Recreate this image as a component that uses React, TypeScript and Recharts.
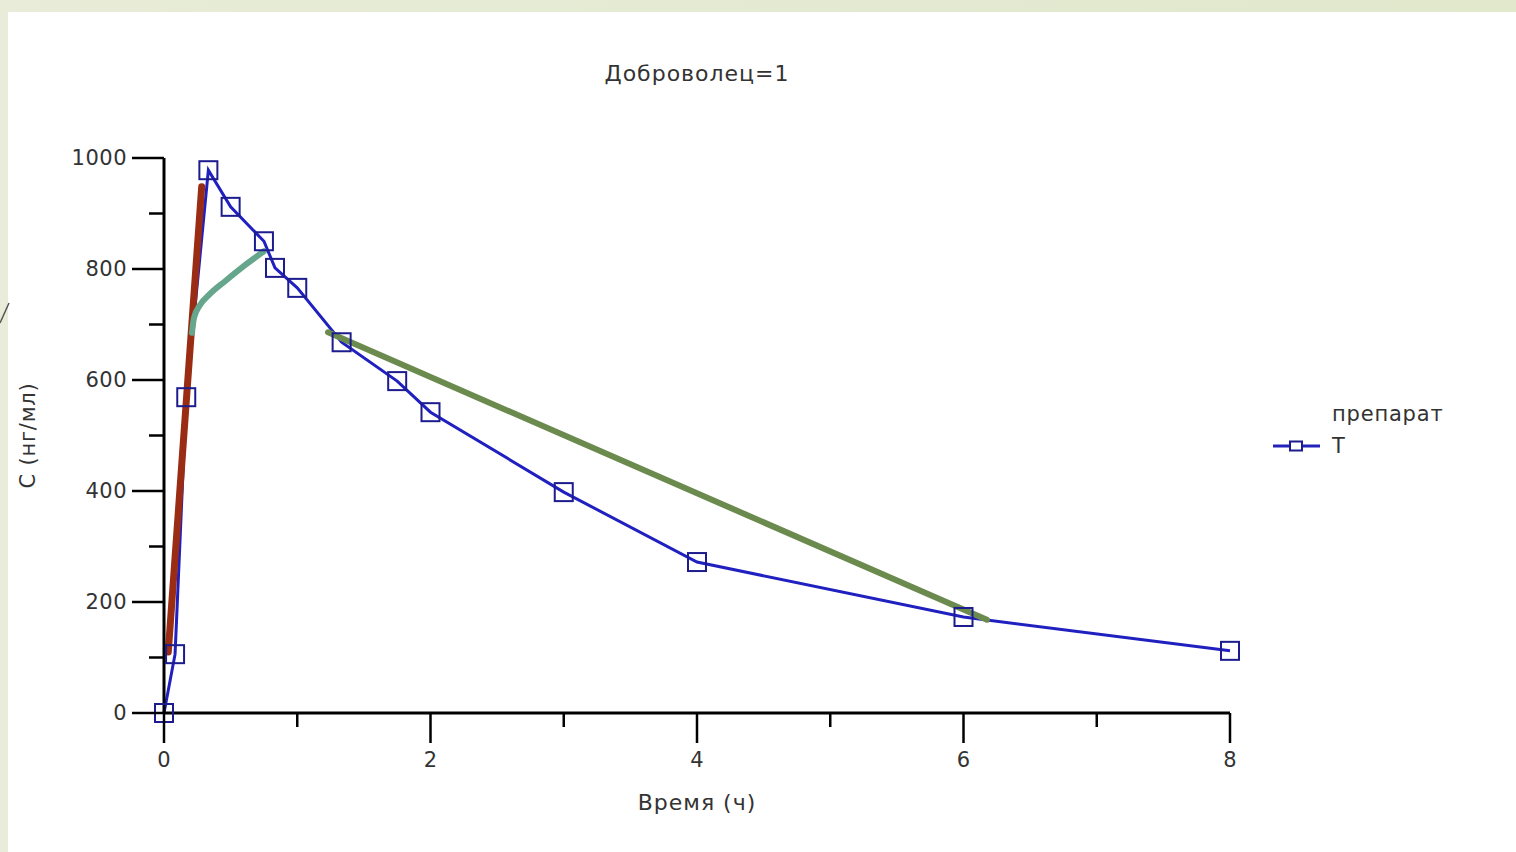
import { Label, Legend, Line, LineChart, XAxis, YAxis } from "recharts";

// main series: concentration over time
const TIMES = [0, 0.083, 0.167, 0.333, 0.5, 0.75, 0.833, 1, 1.333, 1.75, 2, 3, 4, 6, 8];
const CONC = [0, 106, 569, 978, 912, 850, 802, 766, 668, 598, 542, 398, 272, 173, 112];

// hand-drawn annotation strokes on top of the chart
const RISE_T = [0.032, 0.283];
const RISE_C = [110, 948];
const CURVE_T = [0.21, 0.225, 0.27, 0.345, 0.458, 0.608, 0.75];
const CURVE_C = [685, 712, 735, 755, 778, 807, 832];
const FALL_T = [1.231, 6.176];
const FALL_C = [686, 168];

const X_TICKS = [0, 1, 2, 3, 4, 5, 6, 7, 8];
const X_LABELED = [0, 2, 4, 6, 8];
const Y_TICKS = [0, 100, 200, 300, 400, 500, 600, 700, 800, 900, 1000];
const Y_LABELED = [0, 200, 400, 600, 800, 1000];

const FONT = "'DejaVu Sans', Verdana, sans-serif";
const TEXT = "#333";

const zip = (ts: number[], cs: number[]) => ts.map((t, i) => ({ t, c: cs[i] }));

function XTick(props: any) {
  const { x, y, payload } = props;
  const major = X_LABELED.includes(payload.value);
  return (
    <g>
      <line stroke="#000" strokeWidth={2.5} x1={x} x2={x} y1={y} y2={y + (major ? 30 : 14)} />
      {major && (
        <text dominantBaseline="central" fill={TEXT} fontFamily={FONT} fontSize={21} textAnchor="middle" x={x} y={y + 47}>
          {payload.value}
        </text>
      )}
    </g>
  );
}

function YTick(props: any) {
  const { x, y, payload } = props;
  const major = Y_LABELED.includes(payload.value);
  return (
    <g>
      <line stroke="#000" strokeWidth={2.5} x1={x - (major ? 32 : 15)} x2={x} y1={y} y2={y} />
      {major && (
        <text dominantBaseline="central" fill={TEXT} fontFamily={FONT} fontSize={21} letterSpacing={0.5} textAnchor="end" x={x - 37} y={y}>
          {payload.value}
        </text>
      )}
    </g>
  );
}

function SquareDot(props: any) {
  const { cx, cy, index } = props;
  return <rect fill="none" height={18} key={`dot-${index}`} stroke="#1c1c8e" strokeWidth={2} width={18} x={cx - 9} y={cy - 9} />;
}

function LegendBox() {
  return (
    <div style={{ fontFamily: FONT, fontSize: 21, color: TEXT, letterSpacing: 0.8 }}>
      <div style={{ marginLeft: 62, lineHeight: "32px" }}>препарат</div>
      <div style={{ display: "flex", alignItems: "center", lineHeight: "32px" }}>
        <svg height={20} width={56}>
          <line stroke="#2222bb" strokeWidth={3} x1={3} x2={50} y1={10} y2={10} />
          <rect fill="#fff" height={9} stroke="#1c1c8e" strokeWidth={2} width={12} x={20} y={5.5} />
        </svg>
        <span style={{ marginLeft: 6 }}>T</span>
      </div>
    </div>
  );
}

export default function App() {
  return (
    <div style={{ position: "fixed", left: 0, top: 0, width: 1516, height: 852, background: "linear-gradient(90deg, #e8ecd8, #e1e8cc)" }}>
      <div style={{ position: "absolute", left: 8, top: 12, right: 0, bottom: 0, background: "#fff" }} />
      <svg height={40} style={{ position: "absolute", left: 0, top: 295 }} width={10}>
        <line stroke="#555" strokeWidth={1.5} x1={9} x2={0} y1={8} y2={28} />
      </svg>
      <div
        style={{ position: "absolute", left: 497, width: 400, top: 61, textAlign: "center", fontFamily: FONT, fontSize: 22, letterSpacing: 1, color: TEXT }}
      >
        Доброволец=1
      </div>
      <div style={{ position: "absolute", left: 0, top: 0 }}>
        <LineChart height={852} margin={{ top: 158, right: 286, bottom: 79, left: 64 }} width={1516}>
          <XAxis
            axisLine={{ stroke: "#000", strokeWidth: 3 }}
            dataKey="t"
            domain={[0, 8]}
            height={60}
            interval={0}
            tick={<XTick />}
            tickLine={false}
            tickMargin={0}
            tickSize={0}
            ticks={X_TICKS}
            type="number"
          >
            <Label
              content={({ viewBox }: any) => (
                <text dominantBaseline="central" fill={TEXT} fontFamily={FONT} fontSize={22} letterSpacing={1} textAnchor="middle" x={viewBox.x + viewBox.width / 2} y={802}>
                  Время (ч)
                </text>
              )}
            />
          </XAxis>
          <YAxis
            axisLine={{ stroke: "#000", strokeWidth: 3 }}
            domain={[0, 1000]}
            interval={0}
            tick={<YTick />}
            tickLine={false}
            tickMargin={0}
            tickSize={0}
            ticks={Y_TICKS}
            type="number"
            width={100}
          >
            <Label
              content={({ viewBox }: any) => {
                const cy = viewBox.y + viewBox.height / 2;
                return (
                  <text dominantBaseline="central" fill={TEXT} fontFamily={FONT} fontSize={21} letterSpacing={0.8} textAnchor="middle" transform={`rotate(-90, 28, ${cy})`} x={28} y={cy}>
                    C (нг/мл)
                  </text>
                );
              }}
            />
          </YAxis>
          <Legend content={<LegendBox />} layout="horizontal" verticalAlign="middle" wrapperStyle={{ left: 1270, top: 398, width: 220 }} />
          <Line
            data={zip(TIMES, CONC)}
            dataKey="c"
            dot={<SquareDot />}
            isAnimationActive={false}
            name="T"
            stroke="#2020c0"
            strokeWidth={3}
            type="linear"
          />
          <Line
            data={zip(RISE_T, RISE_C)}
            dataKey="c"
            dot={false}
            isAnimationActive={false}
            legendType="none"
            stroke="#9a2c14"
            strokeLinecap="round"
            strokeWidth={7}
            type="linear"
          />
          <Line
            data={zip(CURVE_T, CURVE_C)}
            dataKey="c"
            dot={false}
            isAnimationActive={false}
            legendType="none"
            stroke="#66a68c"
            strokeLinecap="round"
            strokeWidth={6}
            type="monotone"
          />
          <Line
            data={zip(FALL_T, FALL_C)}
            dataKey="c"
            dot={false}
            isAnimationActive={false}
            legendType="none"
            stroke="#6b8a4e"
            strokeLinecap="round"
            strokeWidth={6}
            type="linear"
          />
        </LineChart>
      </div>
    </div>
  );
}
